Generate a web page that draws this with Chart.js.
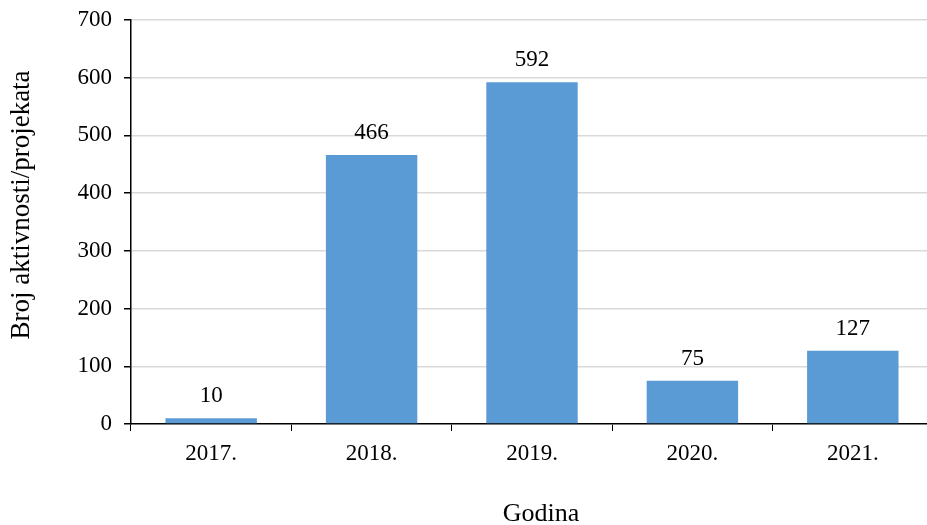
<!DOCTYPE html>
<html lang="hr">
<head>
<meta charset="UTF-8" />
<title>Broj aktivnosti/projekata po godinama</title>
<style>
  html, body { margin: 0; padding: 0; background: #fff; overflow: hidden; }
  #wrap { width: 933px; height: 525px; }
</style>
</head>
<body>
<div id="wrap"><canvas id="chart" width="933" height="525"></canvas></div>
<script src="https://cdn.jsdelivr.net/npm/chart.js@4.4.0/dist/chart.umd.min.js"></script>
<script>
  // podaci
  const godine = ['2017.', '2018.', '2019.', '2020.', '2021.'];
  const broj = [10, 466, 592, 75, 127];
  const yTicks = [0, 100, 200, 300, 400, 500, 600, 700];

  const family = "'Liberation Serif', 'Times New Roman', serif";
  const font = { family: family, size: 23 };

  // brojevi iznad stupaca + nazivi osi
  const valueLabels = {
    id: 'valueLabels',
    afterDatasetsDraw(chart) {
      const ctx = chart.ctx;
      const meta = chart.getDatasetMeta(0);
      ctx.save();
      ctx.font = font.size + 'px ' + family;
      ctx.fillStyle = '#000';
      ctx.textAlign = 'center';
      ctx.textBaseline = 'alphabetic';
      meta.data.forEach((bar, i) => {
        ctx.fillText(String(broj[i]), bar.x, bar.y - 16);
      });

      ctx.font = '26px ' + family;
      ctx.textBaseline = 'middle';
      ctx.fillText('Godina', 541, 514);
      ctx.font = '27px ' + family;
      ctx.translate(22, 205);
      ctx.rotate(-Math.PI / 2);
      ctx.fillText('Broj aktivnosti/projekata', 0, 0);
      ctx.restore();
    }
  };

  new Chart(document.getElementById('chart'), {
    type: 'bar',
    data: {
      labels: godine,
      datasets: [{
        data: broj,
        backgroundColor: '#5B9BD5',
        borderWidth: 0,
        barPercentage: 0.57,
        categoryPercentage: 1
      }]
    },
    options: {
      responsive: false,
      animation: false,
      layout: { padding: { top: 20, left: 0, right: 0, bottom: 0 } },
      plugins: { legend: { display: false }, tooltip: { enabled: false } },
      scales: {
        x: {
          grid: { drawOnChartArea: false, tickLength: 7, tickColor: '#000', offset: true },
          border: { color: '#000', width: 1.5 },
          ticks: { color: '#000', font: font, padding: 9, maxRotation: 0 },
          afterFit(scale) { scale.height = 101; scale.paddingLeft = 0; scale.paddingRight = 0; }
        },
        y: {
          min: 0,
          max: 700,
          afterBuildTicks(scale) { scale.ticks = yTicks.map(v => ({ value: v })); },
          grid: {
            color: ctx => ctx.index === 0 ? 'rgba(0,0,0,0)' : '#d9d9d9',
            lineWidth: 1.5,
            tickLength: 7,
            tickColor: '#000'
          },
          border: { color: '#000', width: 1.5 },
          ticks: { color: '#000', font: font, padding: 12 },
          afterFit(scale) { scale.width = 131; scale.paddingTop = 0; scale.paddingBottom = 0; }
        }
      }
    },
    plugins: [valueLabels]
  });
</script>
</body>
</html>
